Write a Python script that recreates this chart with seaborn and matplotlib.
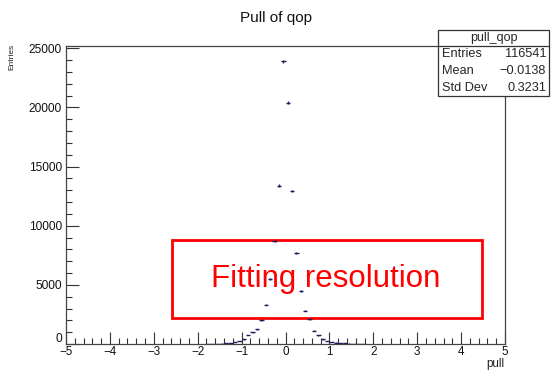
import numpy as np
import pandas as pd
import matplotlib
matplotlib.use('Agg')
import matplotlib.pyplot as plt
import seaborn as sns
from matplotlib.patches import Rectangle
from matplotlib.ticker import MultipleLocator, FuncFormatter

sns.set_theme(style='ticks')
plt.rcParams['font.family'] = ['Liberation Sans', 'DejaVu Sans']

# bin centres of the pull histogram (bin width 0.1) and their counts
bin_centers = [-1.75, -1.65, -1.55, -1.45, -1.35, -1.25, -1.15, -1.05,
               -0.95, -0.85, -0.75, -0.65, -0.55, -0.45, -0.35, -0.25,
               -0.15, -0.05, 0.05, 0.15, 0.25, 0.35, 0.45, 0.55, 0.65,
               0.75, 0.85, 0.95, 1.05, 1.15, 1.25, 1.35, 1.45, 1.55,
               1.65, 1.75]
counts = [10, 20, 30, 40, 60, 80, 140, 250,
          400, 750, 1000, 1250, 2020, 3340, 5470, 8700,
          13400, 23900, 20400, 12950, 7700, 4460, 2820, 2090, 1120,
          740, 400, 260, 150, 120, 80, 50, 40, 30,
          20, 10]
bin_width = 0.1

stats_name = 'pull_qop'
stats_rows = [('Entries', '116541'), ('Mean', '\u22120.0138'), ('Std Dev', '0.3231')]

df = pd.DataFrame({'pull': bin_centers, 'entries': counts})

fig = plt.figure(figsize=(5.51, 3.70), dpi=100)
ax = fig.add_axes([66 / 551, 26 / 370, 439 / 551, 298 / 370])
ax.set_zorder(10)
ax.patch.set_alpha(0)

navy = '#1c1c5c'
ax.errorbar(df['pull'], df['entries'], xerr=bin_width / 2,
            yerr=np.sqrt(df['entries']), fmt='none', ecolor=navy,
            elinewidth=1.0, capsize=0)

ax.set_xlim(-5, 5)
ax.set_ylim(0, 25200)
ax.xaxis.set_major_locator(MultipleLocator(1))
ax.xaxis.set_minor_locator(MultipleLocator(0.2))
ax.yaxis.set_major_locator(MultipleLocator(5000))
ax.yaxis.set_minor_locator(MultipleLocator(1000))
# the "0" on the y axis is drawn by hand, a little higher, as ROOT does
ax.yaxis.set_major_formatter(FuncFormatter(lambda v, p: '' if v == 0 else f'{v:.0f}'))
ax.tick_params(which='both', direction='in', bottom=True, left=True,
               top=False, right=False, labelsize=8.6, colors='#333333',
               labelcolor='#111111', pad=3)
ax.tick_params(axis='x', labelsize=8.4, pad=1.5)
ax.tick_params(which='major', length=9, width=0.8)
ax.tick_params(which='minor', length=4.5, width=0.8)
for s in ax.spines.values():
    s.set_visible(True)
    s.set_color('#444444')
    s.set_linewidth(0.9)

ax.set_xlabel('')
ax.set_ylabel('')
fig.text(62 / 551, 1 - 339 / 370, '0', ha='right', va='center',
         fontsize=8.6, color='#111111')
fig.text(504 / 551, 0, 'pull', ha='right', va='bottom',
         fontsize=8.4, color='#222222')
fig.text(12 / 551, 1 - 44 / 370, 'Entries', rotation=90, ha='center', va='top',
         fontsize=6, color='#222222')

fig.text(0.5, 1 - 18 / 370, 'Pull of qop', ha='center', va='center',
         fontsize=11, color='#111111')

# statistics box
bx0, bx1, by0, by1 = 438 / 551, 549 / 551, 1 - 96 / 370, 1 - 30 / 370
fig.patches.append(Rectangle((bx0, by0), bx1 - bx0, by1 - by0,
                             transform=fig.transFigure, facecolor='white',
                             edgecolor='#333333', lw=0.9, zorder=20))
hdr = 1 - 46 / 370
fig.add_artist(plt.Line2D([bx0, bx1], [hdr, hdr], transform=fig.transFigure,
                          color='#333333', lw=0.9, zorder=21))
fig.text((bx0 + bx1) / 2, (hdr + by1) / 2, stats_name, ha='center', va='center',
         fontsize=9, zorder=22)
row_h = (hdr - by0) / len(stats_rows)
for i, (k, v) in enumerate(stats_rows):
    yy = hdr - row_h * (i + 0.5)
    fig.text(bx0 + 4 / 551, yy, k, ha='left', va='center', fontsize=9.2, zorder=22)
    fig.text(bx1 - 3 / 551, yy, v, ha='right', va='center', fontsize=9.2, zorder=22)

# red annotation box
fig.patches.append(Rectangle((172 / 551, 1 - 318 / 370), 310 / 551, 78 / 370,
                             transform=fig.transFigure, facecolor='none',
                             edgecolor='#ff0000', lw=2, zorder=8))
fig.text(326 / 551, 1 - 279 / 370, 'Fitting resolution', ha='center',
         va='center', fontsize=22.5, color='#ff0000', zorder=9)

fig.savefig('out.png', dpi=100, facecolor='white')
